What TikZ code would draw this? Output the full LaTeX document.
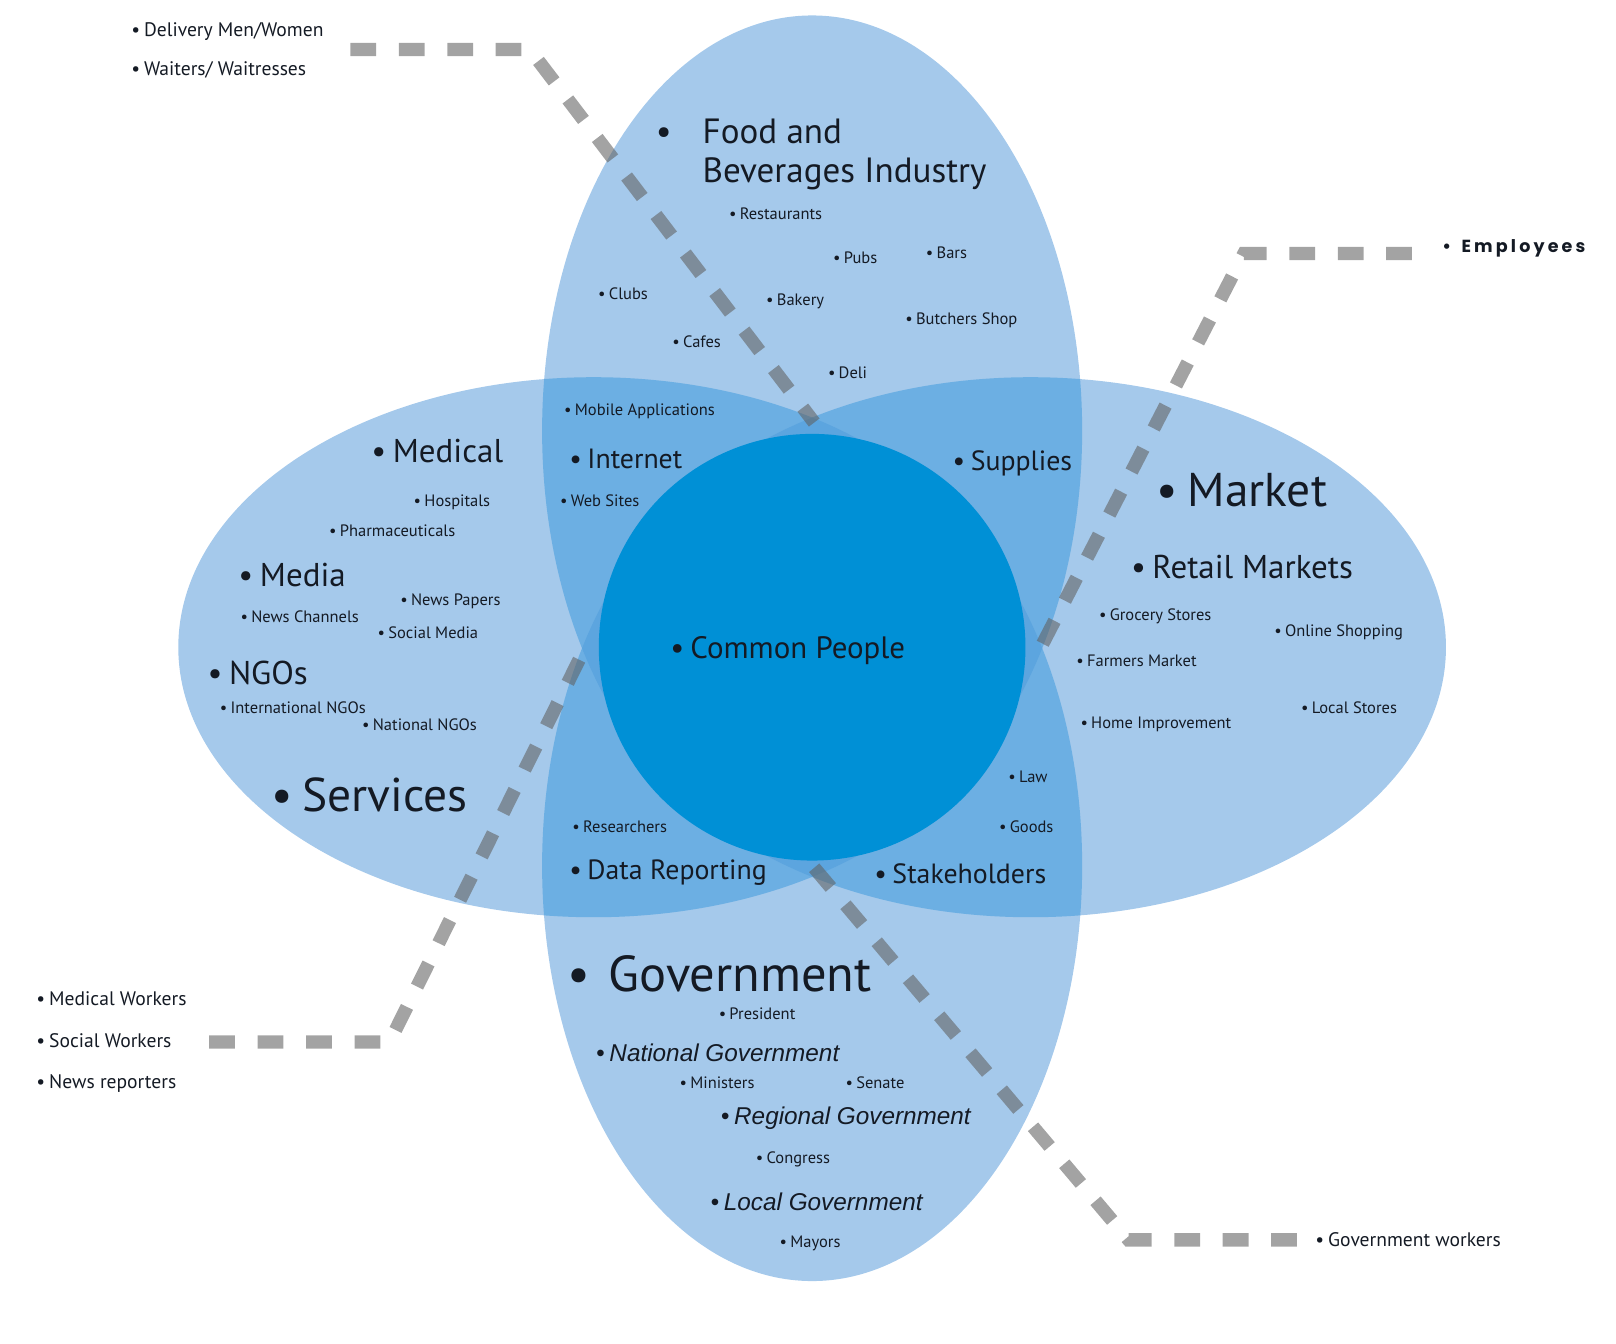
\documentclass[tikz,border=0pt]{standalone}
\usepackage{fontspec}
\setmainfont{PT Sans}
\newfontfamily\slantfont{Liberation Sans}
\newfontfamily\spacedfont[LetterSpace=18]{Poppins}
\usetikzlibrary{positioning}
\definecolor{petalblue}{HTML}{A5C9EB}
\definecolor{laptwo}{HTML}{6CAFE3}
\definecolor{lapthree}{HTML}{5CA5DF}
\definecolor{coreblue}{HTML}{0090D6}
\definecolor{inkdark}{HTML}{141A24}
\newcommand{\bul}{\textbullet\hspace{0.2em}}
\tikzset{
  % text levels
  item/.style={anchor=west, inner sep=0pt, text=inkdark, font=\fontsize{8}{9}\selectfont},
  outer/.style={anchor=west, inner sep=0pt, text=inkdark, font=\fontsize{9.5}{11}\selectfont},
  topic/.style={anchor=west, inner sep=0pt, text=inkdark, font=\fontsize{#1}{17}\selectfont},
  topic/.default={13.5},
  heading/.style={anchor=west, inner sep=0pt, text=inkdark, font=\fontsize{#1}{26}\selectfont},
  heading/.default={23},
  govlevel/.style={anchor=west, inner sep=0pt, text=inkdark, font=\slantfont\itshape\fontsize{11.8}{13}\selectfont},
  % dashed links
  dashlink/.style={line width=6.5pt, draw=black!62, draw opacity=0.58,
    dash pattern=on 12.5pt off 11pt},
}
\newcommand{\petalTop}{(788,418) ellipse [x radius=262, y radius=403]}
\newcommand{\petalBot}{(788,840) ellipse [x radius=262, y radius=403]}
\newcommand{\petalLeft}{(576,628) ellipse [x radius=403, y radius=262]}
\newcommand{\petalRight}{(1000,628) ellipse [x radius=403, y radius=262]}
\begin{document}
\begin{tikzpicture}[x=0.5pt, y=-0.5pt]
  \useasboundingbox (0,0) rectangle (1568,1304);

  % Petals
  \foreach \pa in {\petalTop,\petalBot,\petalLeft,\petalRight}
    \fill[petalblue] \pa;
  \foreach \pa/\pb in {\petalTop/\petalLeft,\petalTop/\petalRight,\petalBot/\petalLeft,
                       \petalBot/\petalRight,\petalLeft/\petalRight,\petalTop/\petalBot}{
    \begin{scope}
      \clip \pa;
      \fill[laptwo] \pb;
    \end{scope}
  }
  \foreach \pa/\pb/\pc in {\petalTop/\petalLeft/\petalRight,\petalBot/\petalLeft/\petalRight,
                           \petalTop/\petalBot/\petalLeft,\petalTop/\petalBot/\petalRight}{
    \begin{scope}
      \clip \pa;
      \clip \pb;
      \fill[lapthree] \pc;
    \end{scope}
  }

  % Core
  \node[circle, fill=coreblue, minimum size=414*0.5pt, inner sep=0pt] (core) at (788,628) {};
  \node[topic=15] (people) at (650,631) {\bul Common People};

  % Food and Beverages
  \node[anchor=north west, inner sep=0pt, text=inkdark, font=\fontsize{17}{19}\selectfont] (food) at (636,112)
    {\begin{tabular}{@{}l@{\hspace{15pt}}l@{}}\textbullet & Food and\\ & Beverages Industry\end{tabular}};
  \node[item] (restaurants) at (707,207) {\bul Restaurants};
  \node[item] (pubs) at (808,250) {\bul Pubs};
  \node[item] (bars) at (898,245) {\bul Bars};
  \node[item] (clubs) at (580,285) {\bul Clubs};
  \node[item] (bakery) at (743,292) {\bul Bakery};
  \node[item] (butchers) at (878,311) {\bul Butchers Shop};
  \node[item] (cafes) at (652,332) {\bul Cafes};
  \node[item] (deli) at (803,362) {\bul Deli};

  % Internet / Supplies
  \node[item] (mobile) at (547,399) {\bul Mobile Applications};
  \node[topic] (internet) at (552,445) {\bul Internet};
  \node[item] (websites) at (543,486) {\bul Web Sites};
  \node[topic] (supplies) at (924,450) {\bul Supplies};

  % Services
  \node[topic=16] (medical) at (360,438) {\bul Medical};
  \node[item] (hospitals) at (401,487) {\bul Hospitals};
  \node[item] (pharma) at (319,515) {\bul Pharmaceuticals};
  \node[topic=16] (media) at (231,558) {\bul Media};
  \node[item] (papers) at (388,583) {\bul News Papers};
  \node[item] (channels) at (233,598) {\bul News Channels};
  \node[item] (social) at (366,614) {\bul Social Media};
  \node[topic=16] (ngos) at (201,653) {\bul NGOs};
  \node[item] (intngo) at (213,687) {\bul International NGOs};
  \node[item] (natngo) at (351,703) {\bul National NGOs};
  \node[heading] (services) at (263,771) {\bul Services};

  % Market
  \node[heading] (market) at (1122,476) {\bul Market};
  \node[topic=16] (retail) at (1097,550) {\bul Retail Markets};
  \node[item] (grocery) at (1066,598) {\bul Grocery Stores};
  \node[item] (online) at (1236,614) {\bul Online Shopping};
  \node[item] (farmers) at (1044,641) {\bul Farmers Market};
  \node[item] (local) at (1262,687) {\bul Local Stores};
  \node[item] (home) at (1048,703) {\bul Home Improvement};
  \node[item] (law) at (978,754) {\bul Law};
  \node[item] (goods) at (969,802) {\bul Goods};

  % Data Reporting / Stakeholders
  \node[item] (researchers) at (555,802) {\bul Researchers};
  \node[topic] (reporting) at (552,847) {\bul Data Reporting};
  \node[topic] (stake) at (848,848) {\bul Stakeholders};

  % Government
  \node[heading=24.5] (gov) at (550,945) {\textbullet\hspace{9pt}Government};
  \node[item] (president) at (697,984) {\bul President};
  \node[govlevel] (natgov) at (578,1022) {\bul National Government};
  \node[item] (ministers) at (659,1051) {\bul Ministers};
  \node[item] (senate) at (820,1051) {\bul Senate};
  \node[govlevel] (reggov) at (699,1085) {\bul Regional Government};
  \node[item] (congress) at (733,1125) {\bul Congress};
  \node[govlevel] (locgov) at (689,1166) {\bul Local Government};
  \node[item] (mayors) at (756,1206) {\bul Mayors};

  % Outside groups
  \node[outer] (delivery) at (127,31) {\bul Delivery Men/Women};
  \node[outer] (waiters) at (127,68) {\bul Waiters/ Waitresses};
  \node[outer, font=\spacedfont\bfseries\fontsize{8.5}{10}\selectfont] (employees) at (1399,241) {\textbullet\hspace{0.6em}Employees};
  \node[outer] (medworkers) at (35,969) {\bul Medical Workers};
  \node[outer] (socworkers) at (35,1010) {\bul Social Workers};
  \node[outer] (reporters) at (35,1051) {\bul News reporters};
  \begin{scope}
    \clip (0,0) rectangle (1458,1304);
    \node[outer] (govworkers) at (1276,1203) {\bul Government workers};
  \end{scope}

  % Links
  \coordinate (hubTop) at (790,410);
  \coordinate (hubRight) at (1010,628);
  \coordinate (hubLeft) at (568,628);
  \coordinate (hubBot) at (790,842);
  \coordinate (dlvBend) at (514,48);
  \coordinate (dlvEnd) at (340,48);
  \coordinate (empBend) at (1207,246);
  \coordinate (empEnd) at (1370,246);
  \coordinate (wrkBend) at (378,1011);
  \coordinate (wrkEnd) at (203,1011);
  \coordinate (govBend) at (1095,1203);
  \coordinate (govEnd) at (1262,1203);
  \draw[dashlink] (dlvEnd) -- (dlvBend) -- (hubTop);
  \draw[dashlink] (empEnd) -- (empBend) -- (hubRight);
  \draw[dashlink] (wrkEnd) -- (wrkBend) -- (hubLeft);
  \draw[dashlink] (hubBot) -- (govBend) -- (govEnd);

\end{tikzpicture}
\end{document}
